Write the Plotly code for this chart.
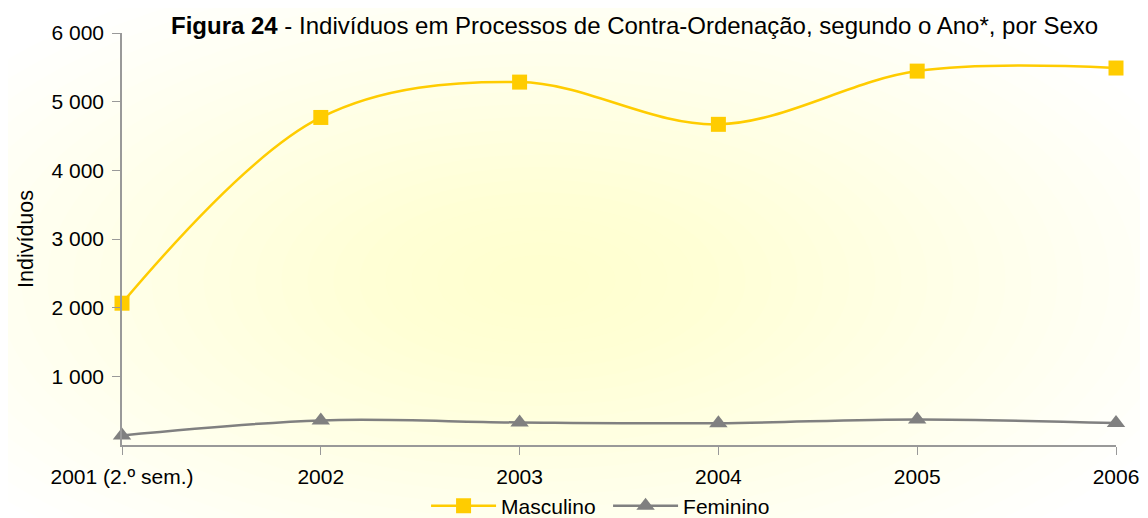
import plotly.graph_objects as go

anos = ["2001 (2.º sem.)", "2002", "2003", "2004", "2005", "2006"]
masculino = [2065, 4770, 5285, 4670, 5445, 5490]
feminino = [140, 358, 328, 318, 372, 320]
y_ticks = [1000, 2000, 3000, 4000, 5000, 6000]
y_tick_text = ["1 000", "2 000", "3 000", "4 000", "5 000", "6 000"]

FONT = "Liberation Sans, Arial, sans-serif"
TICK = 21
TITLE = 24

fig = go.Figure()
fig.add_trace(go.Scatter(
    x=anos, y=masculino, name="Masculino", mode="lines+markers",
    line=dict(color="#FFCC00", width=2.5, shape="spline", smoothing=1.0),
    marker=dict(symbol="square", size=15, color="#FFCC00"),
    cliponaxis=False,
))
fig.add_trace(go.Scatter(
    x=anos, y=feminino, name="Feminino", mode="lines+markers",
    line=dict(color="#808080", width=2.5, shape="spline", smoothing=1.0),
    marker=dict(symbol="triangle-up", size=16, color="#808080"),
    cliponaxis=False,
))

# soft radial background glow
shapes = []
N = 26
cx, cy = 0.42, 0.40
for i in range(N):
    rx = (700 - i * 26) / 994.0
    ry = (340 - i * 12.6) / 412.0
    shapes.append(dict(
        type="circle", xref="paper", yref="paper", layer="below",
        x0=cx - rx, x1=cx + rx, y0=cy - ry, y1=cy + ry,
        fillcolor="rgba(255,255,150,0.023)", line=dict(width=0),
    ))

fig.update_layout(
    width=1148, height=518,
    margin=dict(l=114, r=40, t=25, b=81, autoexpand=False),
    paper_bgcolor="white", plot_bgcolor="rgba(0,0,0,0)",
    font=dict(family=FONT, size=TICK, color="#000000"),
    shapes=shapes,
    showlegend=True,
    legend=dict(orientation="h", x=0.489, xanchor="center", y=-0.148, yanchor="middle",
                font=dict(size=TICK), itemwidth=65, entrywidth=102, entrywidthmode="pixels",
                bgcolor="rgba(0,0,0,0)"),
    annotations=[dict(
        text="<b>Figura 24</b> - Indivíduos em Processos de Contra-Ordenação, segundo o Ano*, por Sexo",
        xref="paper", yref="paper", x=0.984, y=1.019, xanchor="right", yanchor="middle",
        showarrow=False, font=dict(size=TITLE, family=FONT),
    )],
)
fig.update_xaxes(
    type="category", range=[0, 5],
    showgrid=False, showline=True, linecolor="#999999",
    linewidth=1.5, ticks="outside", ticklen=8, tickcolor="#999999", zeroline=False,
    tickfont=dict(size=TICK), ticklabelstandoff=4,
)
fig.update_yaxes(
    range=[0, 6000], tickvals=y_ticks, ticktext=y_tick_text, showgrid=False,
    showline=True, linecolor="#999999", linewidth=1.5, ticks="outside", ticklen=8,
    tickcolor="#999999", zeroline=False, tickfont=dict(size=TICK), ticklabelstandoff=4,
    title=dict(text="Indivíduos", font=dict(size=21.5), standoff=12),
)

fig.write_html("out.html")
